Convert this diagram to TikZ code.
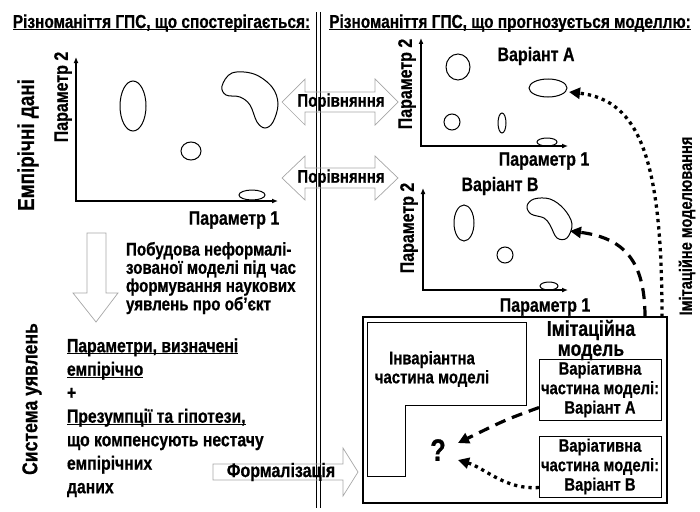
\documentclass[tikz,border=0pt]{standalone}
\usepackage{fontspec}
\setmainfont{Liberation Sans}[FakeStretch=0.82, BoldFeatures={FakeBold=0.6}]
\usetikzlibrary{arrows.meta,shapes.geometric}
\newcommand\myfs[2]{\fontsize{#1}{#2}\selectfont}
\newcommand\myul[1]{\underline{\vphantom{П}\smash{#1}}}
\begin{document}
\begin{tikzpicture}[x=1pt,y=-1pt,
  every node/.style={inner sep=0pt, outer sep=0pt},
  txt/.style={font=\bfseries\myfs{19.5}{21}},
  cmp/.style={font=\bfseries\myfs{18.3}{20}},
  ttl/.style={font=\bfseries\myfs{18.8}{20}},
  shp/.style={draw, line width=1pt},
  oval/.style={ellipse, draw, line width=1pt},
  axis/.style={line width=1.8pt, {Latex[length=6pt,width=5pt]}-{Latex[length=6pt,width=5pt]}},
  hollow/.style={draw=black!35, line width=0.7pt},
  dasharr/.style={line width=3.2pt, dash pattern=on 11pt off 7pt, -{Triangle[length=11pt,width=11pt]}},
  dotarr/.style={line width=3.3pt, dash pattern=on 3.3pt off 4pt, -{Triangle[length=11pt,width=11pt]}},
  vbox/.style={draw, line width=1pt, minimum width=122, minimum height=61, align=center, font=\bfseries\myfs{18}{19.5}}
]
\useasboundingbox (0,0) rectangle (700,511);

% divider
\draw[double, double distance=3.5pt, line width=1.1pt] (318.5,12) -- (318.5,508);

% titles
\node[ttl, anchor=base] (t1) at (161.5,28) {\myul{Різноманіття ГПС, що спостерігається:}};
\node[ttl, anchor=base] (t2) at (510,28) {\myul{Різноманіття ГПС, що прогнозується моделлю:}};

% left graph
\coordinate (lo) at (76,201);
\draw[axis] (76,57) -- (lo) -- (278,201);
\node[txt, rotate=90] (lp2) at (63,97) {Параметр 2};
\node[txt] (lp1) at (234,220) {Параметр 1};
\node[oval, minimum width=26, minimum height=50] (le1) at (133,106) {};
\node[oval, minimum width=20, minimum height=18] (le2) at (191,151) {};
\node[oval, minimum width=26, minimum height=10] (le3) at (252,195) {};
\draw[shp] plot[smooth cycle, tension=0.6] coordinates {(222,86) (232,73) (254,74) (272,87) (278,104) (273,122) (265,128) (257,122) (250,105) (240,97) (226,95)};
\node[font=\bfseries\myfs{23}{25}, rotate=90] (emp) at (28,145) {Емпірічні дані};

% comparison arrows
\draw[hollow] (282,102) -- (305,79) -- (305,92) -- (375,92) -- (375,79) -- (398,102) -- (375,125) -- (375,112) -- (305,112) -- (305,125) -- cycle;
\node[cmp] (cmp1) at (341,102) {Порівняння};
\draw[hollow] (282,178) -- (305,156) -- (305,168) -- (375,168) -- (375,156) -- (398,178) -- (375,200) -- (375,188) -- (305,188) -- (305,200) -- cycle;
\node[cmp] (cmp2) at (341,178) {Порівняння};

% right graph A
\draw[axis] (421,38) -- (421,146) -- (568,146);
\node[txt, rotate=90] (ap2) at (407,84) {Параметр 2};
\node[txt] (ap1) at (544,161) {Параметр 1};
\node[txt] (va) at (536,56) {Варіант А};
\node[oval, minimum width=24, minimum height=26] (a1) at (458,67) {};
\node[oval, minimum width=38, minimum height=18] (eA) at (548,88) {};
\node[oval, minimum width=16, minimum height=16] (a3) at (452,122) {};
\node[oval, minimum width=8, minimum height=20] (a4) at (502,123) {};
\node[oval, minimum width=20, minimum height=8] (a5) at (547,142) {};

% right graph B
\draw[axis] (423,188) -- (423,290) -- (568,290);
\node[txt, rotate=90] (bp2) at (409,228) {Параметр 2};
\node[txt] (bp1) at (545,307) {Параметр 1};
\node[txt] (vb) at (500,186) {Варіант В};
\node[oval, minimum width=20, minimum height=36] (b1) at (464,223) {};
\node[oval, minimum width=16, minimum height=16] (b2) at (505,255) {};
\node[oval, minimum width=18, minimum height=8] (b3) at (549,286) {};
\draw[shp] plot[smooth cycle, tension=0.6] coordinates {(527,206) (534,199) (550,199) (564,209) (572,224) (567,238) (557,238) (550,225) (544,218) (531,214)};
\coordinate (blobB) at (570,231);

\node[font=\bfseries\myfs{17.8}{19}, rotate=90] (imtext) at (687,226) {Імітаційне моделювання};

% left lower part
\draw[hollow] (87,233) -- (106,233) -- (106,293) -- (118,293) -- (96,322) -- (73,293) -- (87,293) -- cycle;
\node[anchor=north west, align=left, font=\bfseries\myfs{18.5}{17}] (build) at (126,242) {Побудова неформалі-\\зованої моделі під час\\формування наукових\\уявлень про об’єкт};
\node[font=\bfseries\myfs{21.5}{23}, rotate=90] (sys) at (32,399) {Система уявлень};
\node[anchor=north west, align=left, font=\bfseries\myfs{19.2}{23.5}] (list) at (67,339) {\myul{Параметри, визначені}\\\myul{емпірічно}\\+\\\myul{Презумпції та гіпотези,}\\що компенсують нестачу\\емпірічних\\даних};

\draw[hollow] (213,464) -- (343,464) -- (343,448) -- (358,472) -- (343,496) -- (343,480) -- (213,480) -- cycle;
\node[txt] (form) at (281,472) {Формалізація};

% imitation model
\node[draw, line width=1.2pt, minimum width=304, minimum height=186] (imit) at (515,410) {};
\draw[line width=0.9pt] (367,322) -- (526,322) -- (526,405) -- (405,405) -- (405,476) -- (367,476) -- cycle;
\node[align=center, font=\bfseries\myfs{18.2}{19}] (inv) at (432,369) {Інваріантна\\частина моделі};
\node[align=center, font=\bfseries\myfs{21.5}{20}] (imm) at (591,340) {Імітаційна\\модель};
\node[vbox] (A) at (600,389.5) {Варіативна\\частина моделі:\\Варіант А};
\node[vbox] (B) at (600,466.5) {Варіативна\\частина моделі:\\Варіант В};
\node[font=\bfseries\myfs{31}{33}] (q) at (438,450) {?};
\coordinate (qa) at (458,443);
\coordinate (qb) at (458,460);

\draw[dasharr] ([yshift=-18pt]A.west) .. controls (505,420) .. (qa);
\draw[dotarr] ([yshift=-21pt]B.west) .. controls (505,490) and (485,468) .. (qb);
\draw[dotarr] ([xshift=-5pt]imit.north east) .. controls (662,160) and (640,100) .. ([shift={(2,4)}]eA.east);
\draw[dasharr] ([xshift=-22pt]imit.north east) .. controls (645,262) and (625,238) .. (blobB);
\end{tikzpicture}
\end{document}
